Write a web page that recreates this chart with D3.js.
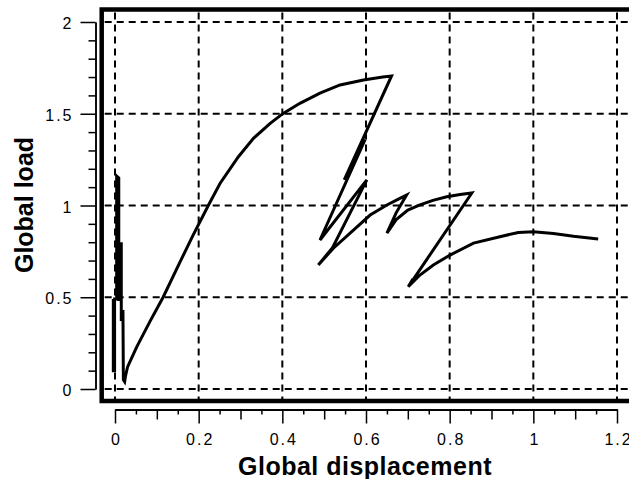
<!DOCTYPE html>
<html>
<head>
<meta charset="utf-8">
<script src="https://cdn.jsdelivr.net/npm/d3@7"></script>
<style>
    body { margin: 0; background: #fff; }
    .tick-label { font-family: "Liberation Sans", Arial, sans-serif; font-size: 16px; letter-spacing: 2px; }
    .axis-title { font-family: "Liberation Sans", Arial, sans-serif; font-size: 25px; font-weight: bold; }
</style>
</head>
<body>
<div id="chart"></div>
<script>

// global displacement / global load readings, in path order
const dispValues = [
    -0.004, -0.004, -0.001, -0.001, 0.004, 0.004, 0.009, 0.009, 0.015, 0.015,
    0.019, 0.020, 0.023, 0.025,
    0.030, 0.052, 0.084, 0.115, 0.155, 0.187, 0.223, 0.251, 0.295, 0.331,
    0.371, 0.402, 0.442, 0.490, 0.538, 0.594, 0.640, 0.661,
    0.548, 0.598, 0.490, 0.602, 0.520, 0.486,
    0.522, 0.570, 0.610, 0.650, 0.681, 0.697,
    0.672, 0.650,
    0.673, 0.700, 0.729, 0.760, 0.793, 0.825, 0.853,
    0.701, 0.712, 0.704,
    0.729, 0.761, 0.801, 0.857, 0.920, 0.964, 1.000, 1.048, 1.096, 1.155
];
const loadValues = [
    0.49, 0.10, 0.10, 0.49, 0.49, 1.16, 1.15, 0.48, 0.80, 0.37,
    0.43, 0.05, 0.04, 0.07,
    0.12, 0.23, 0.37, 0.50, 0.69, 0.84, 1.00, 1.12, 1.266, 1.366,
    1.448, 1.502, 1.557, 1.612, 1.657, 1.684, 1.700, 1.706,
    1.14, 1.36, 0.812, 1.14, 0.77, 0.676,
    0.767, 0.866, 0.948, 1.003, 1.039, 1.057,
    0.96, 0.849,
    0.925, 0.975, 1.003, 1.028, 1.048, 1.060, 1.068,
    0.557, 0.60, 0.565,
    0.621, 0.676, 0.730, 0.795, 0.830, 0.853, 0.857, 0.848, 0.832, 0.818
];

const xTicks = [0, 0.2, 0.4, 0.6, 0.8, 1, 1.2];
const xTickLabels = ['0', '0.2', '0.4', '0.6', '0.8', '1', '1.2'];
const xMidTicks = [0.1, 0.3, 0.5, 0.7, 0.9, 1.1];
const xMinorTicks = [0.05, 0.15, 0.25, 0.35, 0.45, 0.55, 0.65, 0.75, 0.85, 0.95, 1.05, 1.15];
const yTicks = [0, 0.5, 1, 1.5, 2];
const yTickLabels = ['0', '0.5', '1', '1.5', '2'];
const yMinorTicks = [0.1, 0.2, 0.3, 0.4, 0.6, 0.7, 0.8, 0.9, 1.1, 1.2, 1.3, 1.4, 1.6, 1.7, 1.8, 1.9];

const width = 629, height = 479;

const svg = d3.select('#chart').append('svg')
    .attr('width', width)
    .attr('height', height);

// scales
const x = d3.scaleLinear().domain([0, 1.2]).range([115, 617]);
const y = d3.scaleLinear().domain([0, 2]).range([389, 22]);

// frame interior
const frame = {left: 101.7, top: 9.5, bottom: 401, right: 634};

// dashed grid
svg.append('g').selectAll('line')
    .data(xTicks)
    .join('line')
    .attr('x1', d => x(d)).attr('x2', d => x(d))
    .attr('y1', frame.top + 3).attr('y2', frame.bottom - 2)
    .attr('stroke', 'black')
    .attr('stroke-width', 2)
    .attr('stroke-dasharray', '7,5');

svg.append('g').selectAll('line')
    .data(yTicks)
    .join('line')
    .attr('x1', frame.left + 3).attr('x2', width)
    .attr('y1', d => y(d)).attr('y2', d => y(d))
    .attr('stroke', 'black')
    .attr('stroke-width', 2)
    .attr('stroke-dasharray', '7,5');

// heavy frame (right side falls outside the picture)
svg.append('path')
    .attr('d', `M${frame.right},${frame.top}H${frame.left}V${frame.bottom}H${frame.right}`)
    .attr('fill', 'none')
    .attr('stroke', 'black')
    .attr('stroke-width', 4.5);

// load curve
const points = dispValues.map((d, i) => [d, loadValues[i]]);
svg.append('path')
    .datum(points)
    .attr('fill', 'none')
    .attr('stroke', 'black')
    .attr('stroke-width', 3)
    .attr('d', d3.line().x(d => x(d[0])).y(d => y(d[1])));

// x axis (three tick lengths)
const xAxisG = svg.append('g').attr('transform', 'translate(0,409.5)');
xAxisG.append('g')
    .call(d3.axisBottom(x).tickValues(xTicks).tickFormat((d, i) => xTickLabels[i])
        .tickSize(14).tickSizeOuter(0).tickPadding(10));
xAxisG.append('g')
    .call(d3.axisBottom(x).tickValues(xMidTicks).tickFormat('').tickSize(10).tickSizeOuter(0));
xAxisG.append('g')
    .call(d3.axisBottom(x).tickValues(xMinorTicks).tickFormat('').tickSize(5).tickSizeOuter(0));

// y axis
const yAxisG = svg.append('g').attr('transform', 'translate(95.5,0)');
yAxisG.append('g')
    .call(d3.axisLeft(y).tickValues(yTicks).tickFormat((d, i) => yTickLabels[i])
        .tickSize(15).tickSizeOuter(0).tickPadding(7));
yAxisG.append('g')
    .call(d3.axisLeft(y).tickValues(yMinorTicks).tickFormat('').tickSize(7).tickSizeOuter(0));

svg.selectAll('.domain, .tick line')
    .attr('stroke', 'black')
    .attr('stroke-width', 1.5);

svg.selectAll('.tick text')
    .attr('class', 'tick-label')
    .attr('fill', 'black')
    .attr('font-family', null)
    .attr('font-size', null);

yAxisG.selectAll('.tick text').attr('dy', '0.42em');
xAxisG.selectAll('.tick text').attr('dx', '1');

// axis titles
svg.append('text')
    .attr('class', 'axis-title')
    .attr('x', 365)
    .attr('y', 475)
    .attr('text-anchor', 'middle')
    .style('letter-spacing', '0.5px')
    .text('Global displacement');

svg.append('text')
    .attr('class', 'axis-title')
    .attr('transform', 'translate(33,205) rotate(-90)')
    .attr('text-anchor', 'middle')
    .text('Global load');

</script>
</body>
</html>
